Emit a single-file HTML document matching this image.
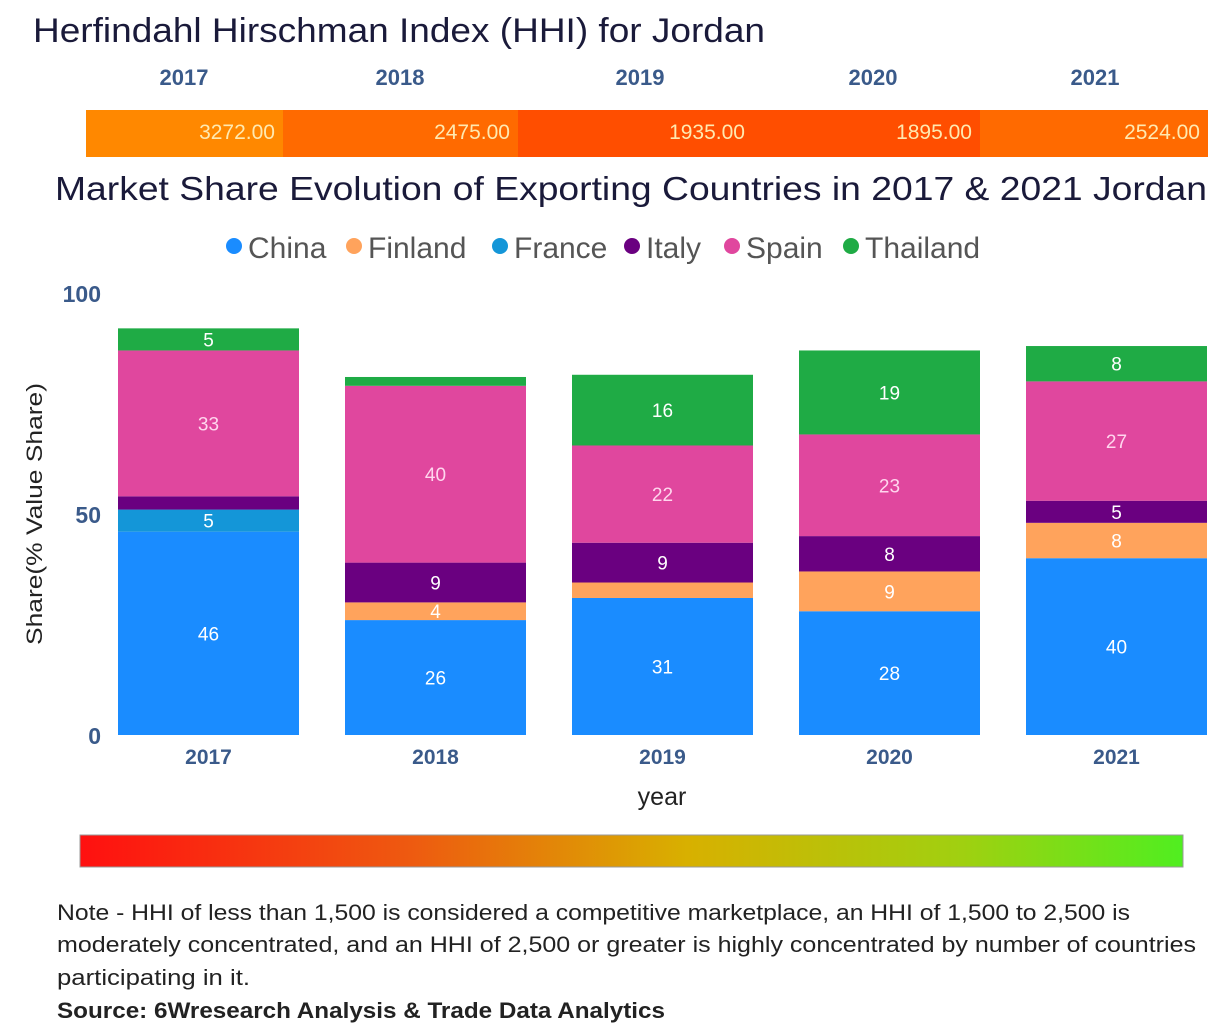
<!DOCTYPE html>
<html><head><meta charset="utf-8"><style>
body{margin:0;background:#fff;}
svg{display:block;font-family:"Liberation Sans",sans-serif;}
</style></head><body>
<svg id="chart" width="1228" height="1036" viewBox="0 0 1228 1036" xmlns="http://www.w3.org/2000/svg">
<defs>
<linearGradient id="grad" x1="0" x2="1" y1="0" y2="0">
<stop offset="0" stop-color="#ff1010"/><stop offset="0.3" stop-color="#ee5a10"/><stop offset="0.55" stop-color="#d8b000"/><stop offset="0.8" stop-color="#a0d010"/><stop offset="1" stop-color="#50ee20"/>
</linearGradient>
</defs>
<text x="33" y="42" font-size="34" fill="#1a1a3a" textLength="732" lengthAdjust="spacingAndGlyphs">Herfindahl Hirschman Index (HHI) for Jordan</text>
<g id="hhi"></g>
<text x="55" y="200" font-size="33" fill="#1a1a3a" textLength="1152" lengthAdjust="spacingAndGlyphs">Market Share Evolution of Exporting Countries in 2017 &amp; 2021 Jordan</text>
<g id="legend"></g>
<g id="axes"></g>
<g id="bars"></g>
<text x="662" y="805" font-size="25" fill="#222" text-anchor="middle">year</text>
<text transform="translate(42,514) rotate(-90)" font-size="22" fill="#222" text-anchor="middle" textLength="262" lengthAdjust="spacingAndGlyphs">Share(% Value Share)</text>
<rect x="80" y="835" width="1103" height="32" fill="url(#grad)" stroke="#999" stroke-width="1"/>
<text font-size="22" fill="#222">
<tspan x="57" y="920" textLength="1073" lengthAdjust="spacingAndGlyphs">Note - HHI of less than 1,500 is considered a competitive marketplace, an HHI of 1,500 to 2,500 is</tspan>
<tspan x="57" y="952" textLength="1139" lengthAdjust="spacingAndGlyphs">moderately concentrated, and an HHI of 2,500 or greater is highly concentrated by number of countries</tspan>
<tspan x="57" y="985" textLength="193" lengthAdjust="spacingAndGlyphs">participating in it.</tspan>
</text>
<text x="57" y="1018" font-size="22" font-weight="bold" fill="#222" textLength="608" lengthAdjust="spacingAndGlyphs">Source: 6Wresearch Analysis &amp; Trade Data Analytics</text>
</svg>
<script>
const years = ["2017","2018","2019","2020","2021"];
const hhiValues = [3272, 2475, 1935, 1895, 2524];
const series = ["China","Finland","France","Italy","Spain","Thailand"];
const china = [46, 26, 31, 28, 40];
const finland = [0, 4, 3.5, 9, 8];
const france = [5, 0, 0, 0, 0];
const italy = [3, 9, 9, 8, 5];
const spain = [33, 40, 22, 23, 27];
const thailand = [5, 2, 16, 19, 8];
const yTicks = [0, 50, 100];

const NS = "http://www.w3.org/2000/svg";
function mk(tag, attrs, parent, txt){const e=document.createElementNS(NS,tag);for(const k in attrs)e.setAttribute(k,attrs[k]);if(txt!==undefined)e.textContent=txt;parent.appendChild(e);return e;}
const colors = ["#1a8cff","#ffa35c","#1496d8","#6a0080","#e0479e","#1fab45"];
const labelColors = ["#fff","#fff","#fff","#fff","#ffd6ee","#fff"];
const vals = [china, finland, france, italy, spain, thailand];
const y0 = 735, pxPer = 4.42;
function yS(v){return y0 - v*pxPer;}
function xS(i){return 118 + i*227;}
const bw = 181;

const hhi = document.getElementById('hhi');
const segX = [86, 283, 518, 753, 980, 1208];
function hhiColor(v){ if(v>=3000) return "#ff8800"; if(v>=2400) return "#ff6a00"; return "#ff4e00"; }
const hhiYearX = [184, 400, 640, 873, 1095];
years.forEach((y,i)=>{
  const t = mk('text',{x:hhiYearX[i],y:85,'font-size':22,'font-weight':'bold',fill:'#3a5a8a','text-anchor':'middle'},hhi,y);
  
  
  const r = mk('rect',{x:segX[i],y:110,width:segX[i+1]-segX[i],height:47,fill:hhiColor(hhiValues[i])},hhi);
  
  
  const v = mk('text',{x:segX[i+1]-8,y:139,'font-size':21,fill:'#ffe9b0','text-anchor':'end'},hhi,hhiValues[i].toFixed(2));
  
  
});

const lg = document.getElementById('legend');
const legX = [234, 354, 500, 632, 732, 851];
series.forEach((s,i)=>{
  const c = mk('circle',{cx:legX[i],cy:246,r:8,fill:colors[i]},lg);
  
  
  const t = mk('text',{x:legX[i]+14,y:258,'font-size':30,fill:'#555'},lg,s);
  
  
});

const ax = document.getElementById('axes');
yTicks.forEach(v=>{
  const t = mk('text',{x:101,y:yS(v)+9,'font-size':23,'font-weight':'bold',fill:'#3a5a8a','text-anchor':'end'},ax,String(v));
  
  
});
years.forEach((y,i)=>{
  const t = mk('text',{x:xS(i)+bw/2,y:764,'font-size':21,'font-weight':'bold',fill:'#3a5a8a','text-anchor':'middle'},ax,y);
  
  
});

const bars = document.getElementById('bars');
years.forEach((y,i)=>{
  let cum = 0;
  vals.forEach((arr,si)=>{
    const v = arr[i];
    if(v<=0) return;
    const top = yS(cum+v), bot = yS(cum);
    const r = mk('rect',{x:xS(i),y:top,width:bw,height:bot-top,fill:colors[si]},bars);
    
    
    if(v>=4){
      const t = mk('text',{x:xS(i)+bw/2,y:(top+bot)/2+7,'font-size':19,fill:labelColors[si],'text-anchor':'middle'},bars,String(Math.round(v)));
      
      
    }
    cum += v;
  });
});
</script>
</body></html>
